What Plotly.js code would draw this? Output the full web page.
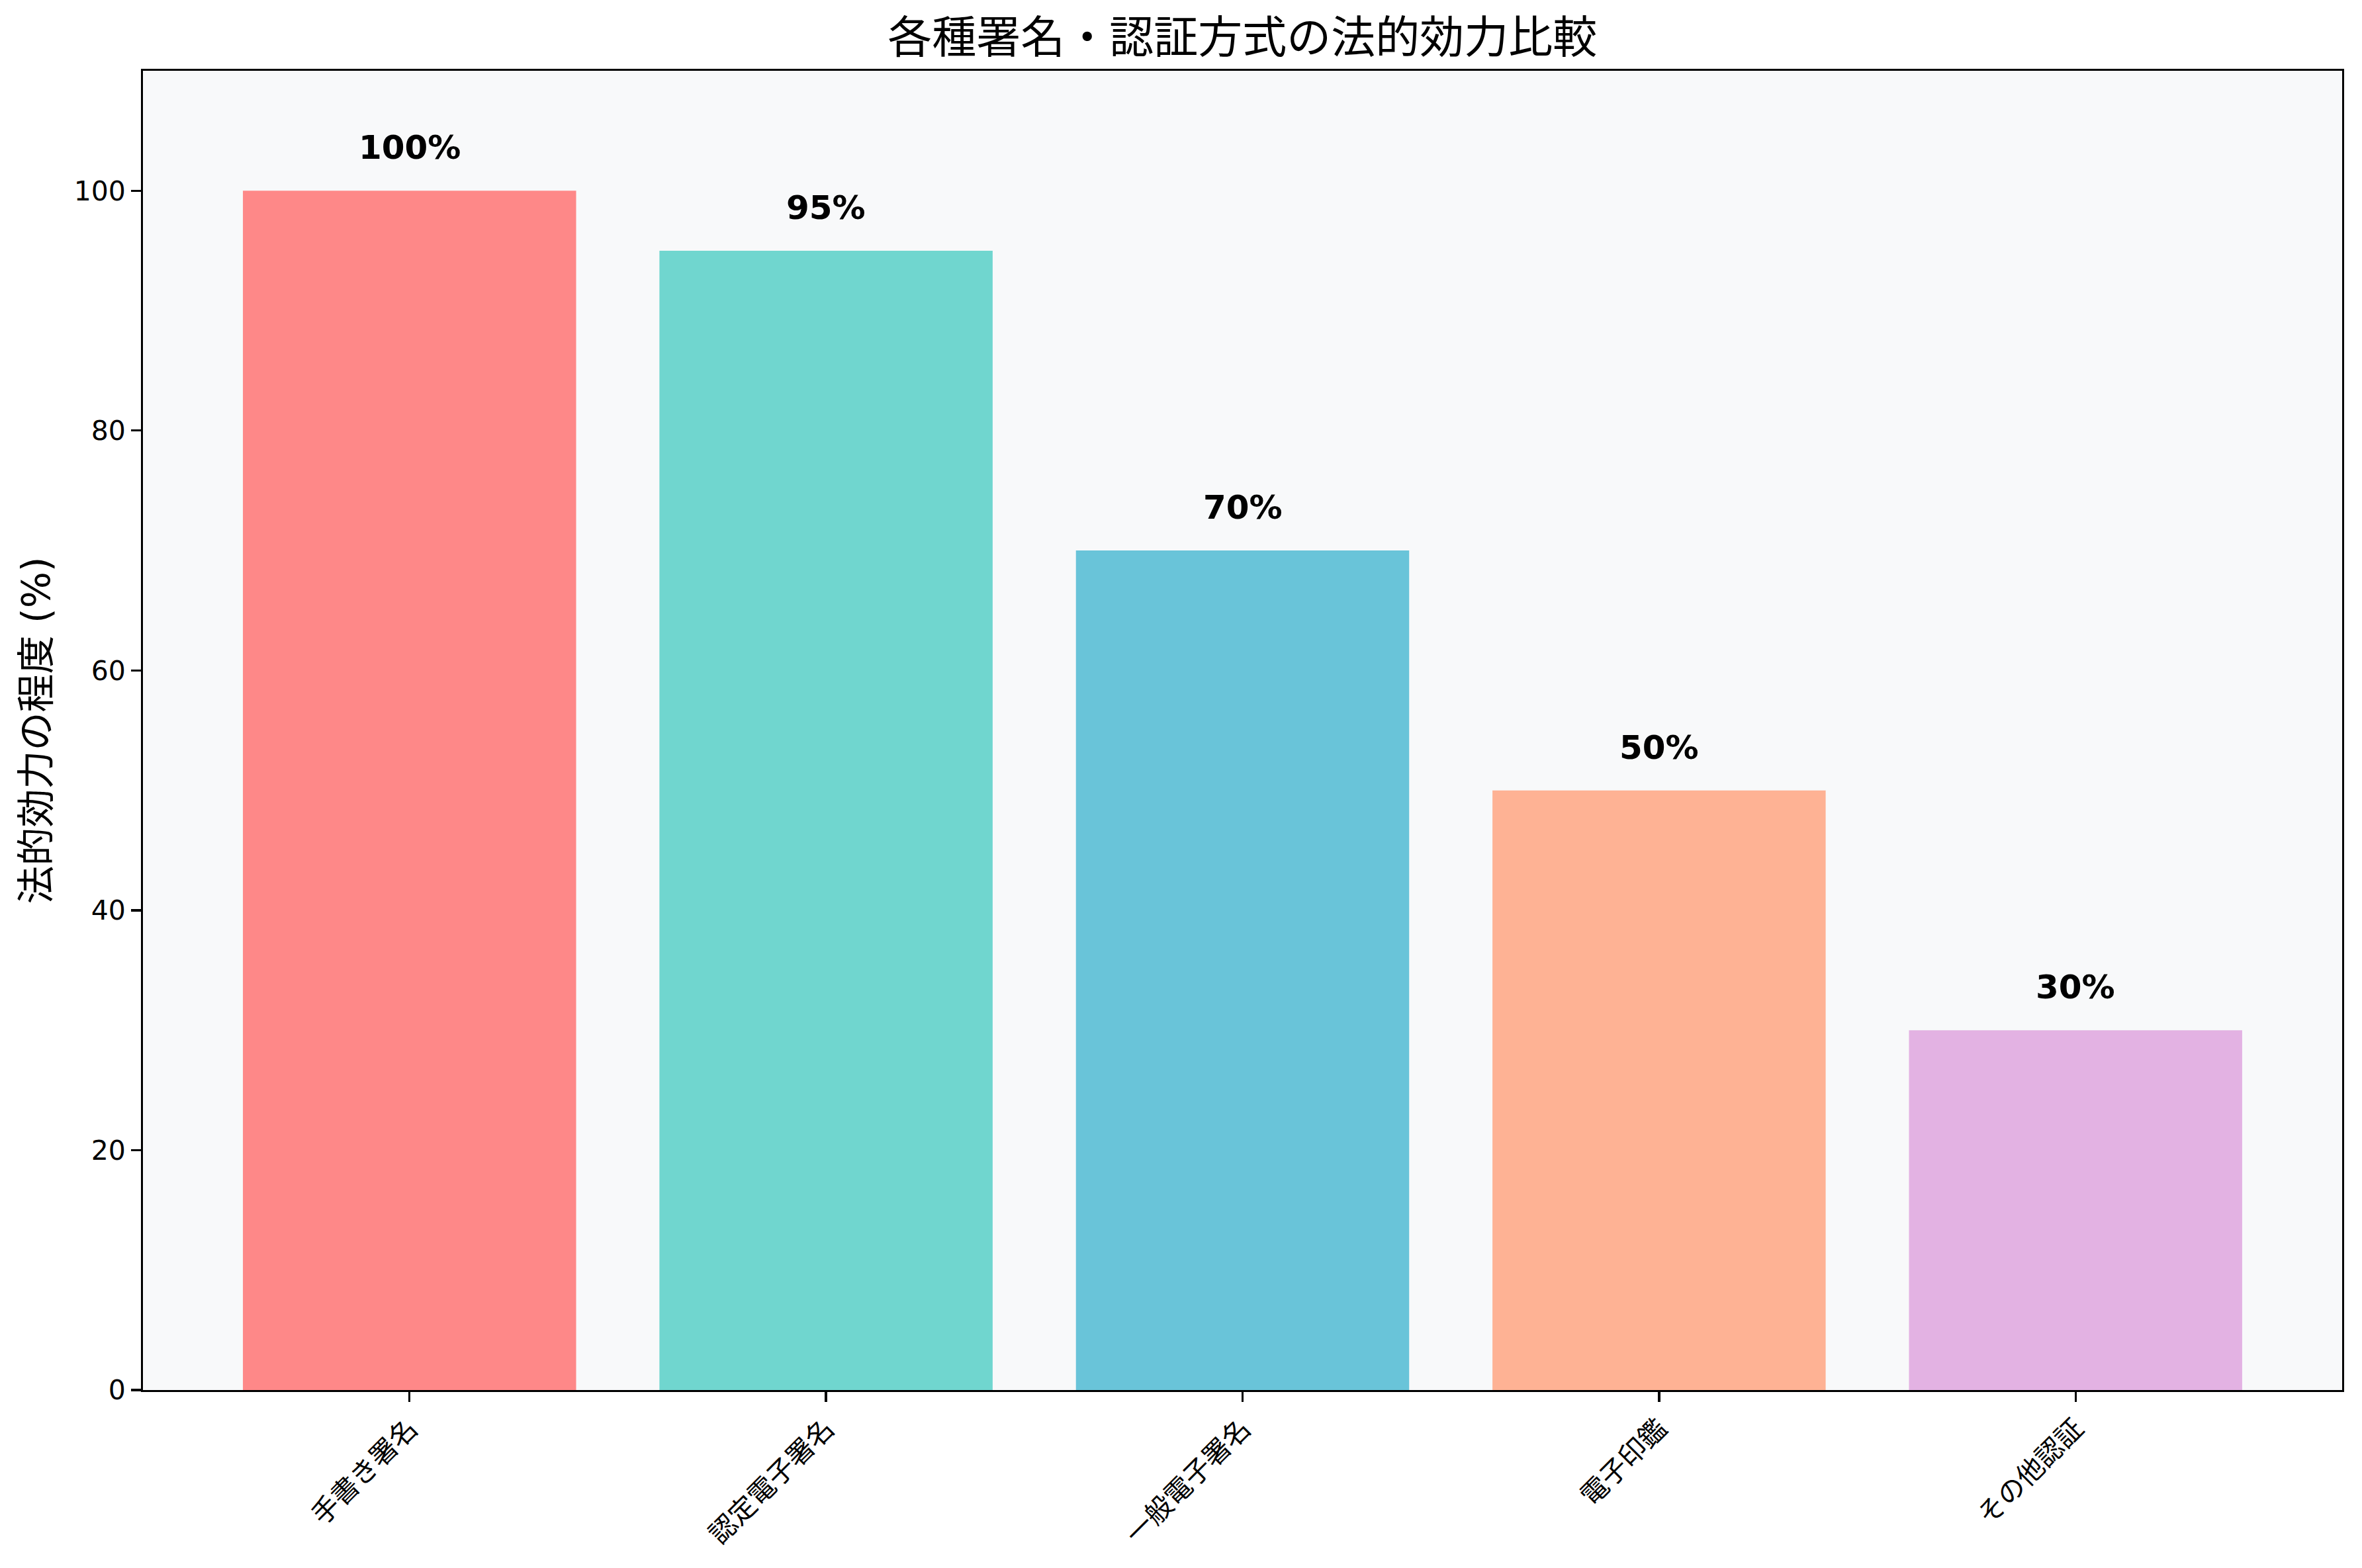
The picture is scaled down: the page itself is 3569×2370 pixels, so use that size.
<!DOCTYPE html>
<html>
<head>
<meta charset="utf-8">
<script src="https://cdn.plot.ly/plotly-3.0.1.min.js"></script>
<style>
  html, body { margin:0; padding:0; background:#ffffff; }
  #chart { width:3569px; height:2370px; }
</style>
</head>
<body>
<div id="chart"></div>
<script>
// ── Data ──────────────────────────────────────────────────────────────────────
const methods = ['手書き署名', '認定電子署名', '一般電子署名', '電子印鑑', 'その他認証'];
const legalForce = [100, 95, 70, 50, 30];
const barColors = ['#FF6B6B', '#4ECDC4', '#45B7D1', '#FFA07A', '#DDA0DD'];
const yTicks = [0, 20, 40, 60, 80, 100];

// ── Shared styles ────────────────────────────────────────────────────────────
const FONT = 'DejaVu Sans, "Noto Sans CJK JP", sans-serif';
const AXIS = { showline:true, linecolor:'#000000', linewidth:3.3, mirror:true,
               ticks:'outside', ticklen:14.6, tickwidth:3.3, tickcolor:'#000000',
               showgrid:false, zeroline:false, tickfont:{ family:FONT, size:41, color:'#000000' } };

const trace = {
  type:'bar', x:methods, y:legalForce, width:0.8,
  marker:{ color:barColors, opacity:0.8, line:{ width:0 } },
  hoverinfo:'skip', showlegend:false,
};

// value labels above each bar
const labels = methods.map((m, i) => ({
  x:m, y:legalForce[i], xref:'x', yref:'y',
  text:'<b>' + legalForce[i] + '%</b>', showarrow:false,
  yanchor:'bottom', xanchor:'center', yshift:34,
  font:{ family:FONT, size:50, color:'#000000' },
}));

Plotly.newPlot('chart', [trace], {
  width:3569, height:2370,
  paper_bgcolor:'#ffffff', plot_bgcolor:'#F8F9FA',
  font:{ family:FONT, color:'#000000' },
  margin:{ t:107, r:30, b:269, l:216 },
  title:{ text:'各種署名・認証方式の法的効力比較', x:0.526, xanchor:'center',
          y:1 - 57/2370, yref:'container', yanchor:'middle',
          font:{ family:FONT, size:67, color:'#000000' } },
  xaxis:{ ...AXIS, type:'category', range:[-0.64, 4.64], tickangle:-45 },
  yaxis:{ ...AXIS, range:[0, 110], tickvals:yTicks, ticktext:yTicks.map(String),
          title:{ text:'法的効力の程度 (%)', standoff:18, font:{ family:FONT, size:58, color:'#000000' } } },
  annotations:labels,
  bargap:0.2,
}, { displayModeBar:false, staticPlot:true });
</script>
</body>
</html>
